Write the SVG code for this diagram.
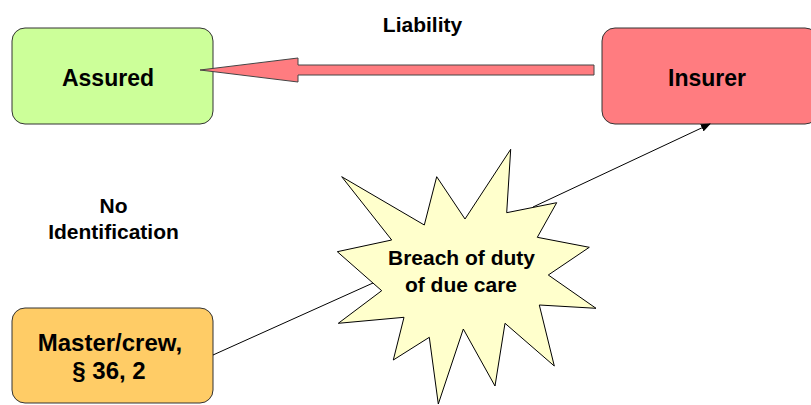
<svg xmlns="http://www.w3.org/2000/svg" width="811" height="405" viewBox="0 0 811 405">
<defs>
<style>
.box{stroke:#333;stroke-width:1}
.lbl{font-family:"Liberation Sans",Arial,sans-serif;font-weight:bold;fill:#000;text-anchor:middle}
.big{font-size:23px}
.sm{font-size:21px}
.con{stroke:#000;stroke-width:1;fill:none}
</style>
<marker id="ah" markerWidth="10" markerHeight="8" refX="9" refY="4" orient="auto" markerUnits="userSpaceOnUse">
<path d="M0,0 L10,4 L0,8 z" fill="#000"/>
</marker>
</defs>
<rect width="811" height="405" fill="#fff"/>
<g id="assured">
<rect class="box" x="12" y="28" width="201" height="96" rx="13" fill="#CCFF99"/>
<text class="lbl big" x="108" y="86">Assured</text>
</g>
<g id="insurer">
<rect class="box" x="602" y="28" width="216" height="96" rx="13" fill="#FF7C80"/>
<text class="lbl big" x="707" y="86">Insurer</text>
</g>
<g id="master">
<rect class="box" x="12" y="308" width="201" height="95" rx="13" fill="#FFCC66"/>
<text class="lbl" font-size="24" x="110" y="351">Master/crew,</text>
<text class="lbl" font-size="24" x="109" y="379">§ 36, 2</text>
</g>
<g id="connectors">
<line class="con" x1="213" y1="355" x2="373" y2="283"/>
<line class="con" x1="533" y1="207" x2="710" y2="124" marker-end="url(#ah)"/>
<path id="liability-arrow" d="M594,65 L298,65 L298,58 L200,70 L298,82 L298,75 L594,75 Z" fill="#FF7C80" stroke="#444" stroke-width="1"/>
</g>
<g id="breach">
<polygon points="341.7,176.7 424.3,225 436.7,176.7 465,219 510.7,149.3 506.7,212.7 556.7,202.7 537.3,237.3 589.3,247.3 548.3,275 596,308.3 539.3,305 554.3,366 505,323.3 495,386 463.3,329 438.3,404 429.3,337.3 393.3,360 404,317.3 338.3,323.3 381.7,290.7 337.3,251.7 391.7,240" fill="#FFFFCC" stroke="#000" stroke-width="1"/>
<text class="lbl sm" x="461.5" y="265">Breach of duty</text>
<text class="lbl sm" x="461" y="292">of due care</text>
</g>
<g id="labels">
<text class="lbl sm" x="422.5" y="31.5">Liability</text>
<text class="lbl sm" x="113.5" y="213">No</text>
<text class="lbl sm" x="113.5" y="239">Identification</text>
</g>
</svg>
